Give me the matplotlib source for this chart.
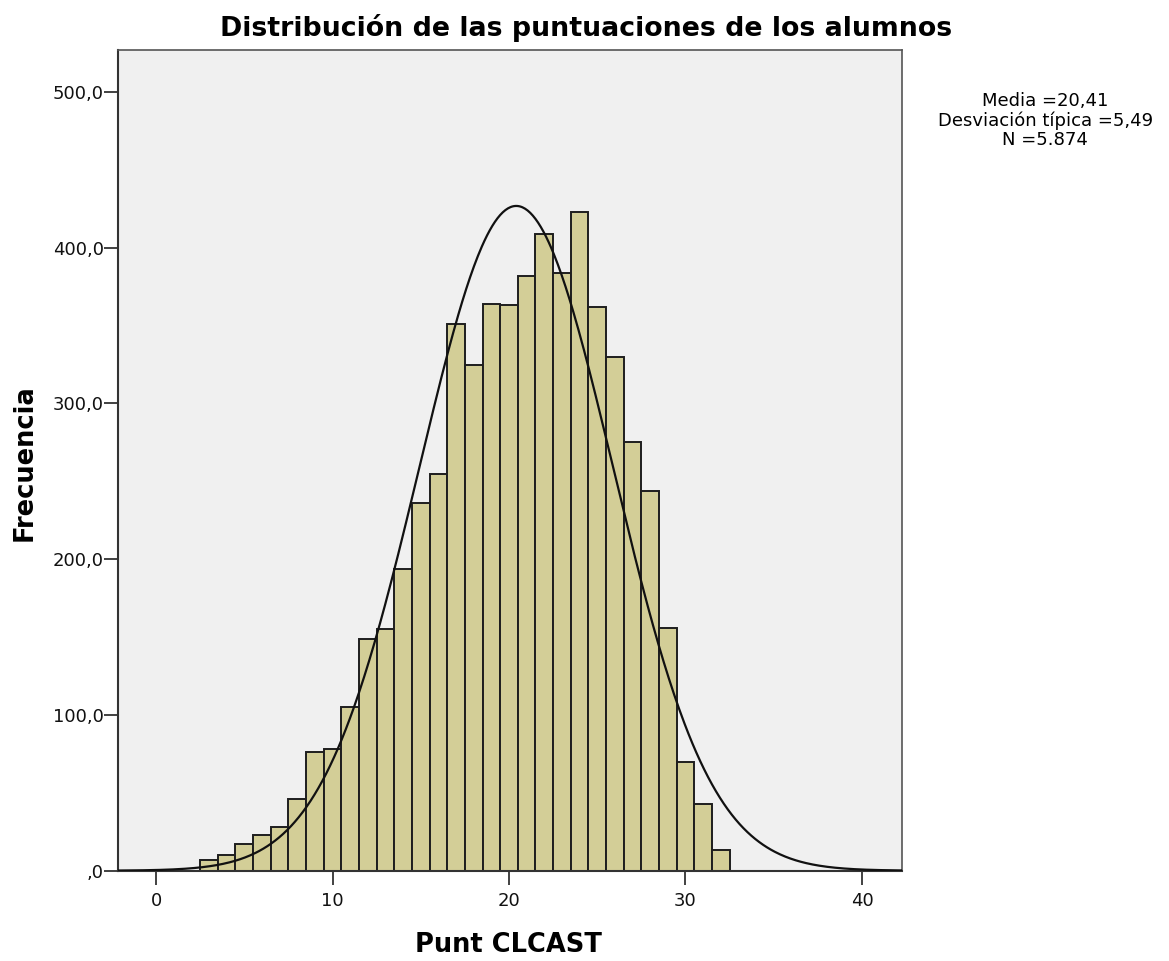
import numpy as np
import matplotlib
matplotlib.use('Agg')
import matplotlib.pyplot as plt
from matplotlib.ticker import FuncFormatter

scores = [3, 4, 5, 6, 7, 8, 9, 10, 11, 12, 13, 14, 15, 16, 17,
          18, 19, 20, 21, 22, 23, 24, 25, 26, 27, 28, 29, 30, 31, 32]
counts = [7, 10, 17, 23, 28, 46, 76, 78, 105, 149, 155, 194, 236, 255, 351,
          325, 364, 363, 382, 409, 384, 423, 362, 330, 275, 244, 156, 70, 43, 13]

media = 20.41
desv = 5.49
n_total = 5874
x_ticks = [0, 10, 20, 30, 40]
y_ticks = [0, 100, 200, 300, 400, 500]

plt.rcParams['font.family'] = ['DejaVu Sans']

fig = plt.figure(figsize=(11.69, 9.61), dpi=100)
ax = fig.add_axes([0.1012, 0.094, 0.6701, 0.854])
ax.set_facecolor('#f0f0f0')

ax.bar(scores, counts, width=1.0, color='#d3ce97', edgecolor='#1e1e1e',
       linewidth=1.4, zorder=2)

# curva normal con la media y desviacion del grafico
xlim = (-2.14, 42.25)
xs = np.linspace(xlim[0], xlim[1], 600)
ys = n_total * 1.0 / (desv * np.sqrt(2 * np.pi)) * np.exp(-0.5 * ((xs - media) / desv) ** 2)
ax.plot(xs, ys, color='#111111', linewidth=1.6, zorder=3)

ax.set_xlim(*xlim)
ax.set_ylim(0, 527)
ax.set_xticks(x_ticks)
ax.set_yticks(y_ticks)


def fmt_y(v, pos):
    s = f'{v:.1f}'.replace('.', ',')
    return s[1:] if s.startswith('0') else s


ax.yaxis.set_major_formatter(FuncFormatter(fmt_y))
ax.tick_params(direction='out', length=10, width=1.3, labelsize=13,
               colors='#333333', labelcolor='#111111')
ax.tick_params(axis='x', pad=5.5)
ax.tick_params(axis='y', pad=0.5)

for side in ['left', 'bottom']:
    ax.spines[side].set_linewidth(1.5)
    ax.spines[side].set_color('#333333')
for side in ['top', 'right']:
    ax.spines[side].set_linewidth(1.2)
    ax.spines[side].set_color('#555555')

fig.text(0.5017, 0.971, 'Distribución de las puntuaciones de los alumnos',
         ha='center', va='center', fontsize=19.3, fontweight='bold')
fig.text(0.435, 0.0166, 'Punt CLCAST', ha='center', va='center',
         fontsize=18.5, fontweight='bold')
fig.text(0.0214, 0.519, 'Frecuencia', ha='center', va='center',
         rotation=90, fontsize=18.5, fontweight='bold')

stats = 'Media =20,41\nDesviación típica =5,49\nN =5.874'
fig.text(0.894, 0.904, stats, ha='center', va='top', fontsize=13,
         multialignment='center', linespacing=1.08)

fig.savefig('out.png', dpi=100)
